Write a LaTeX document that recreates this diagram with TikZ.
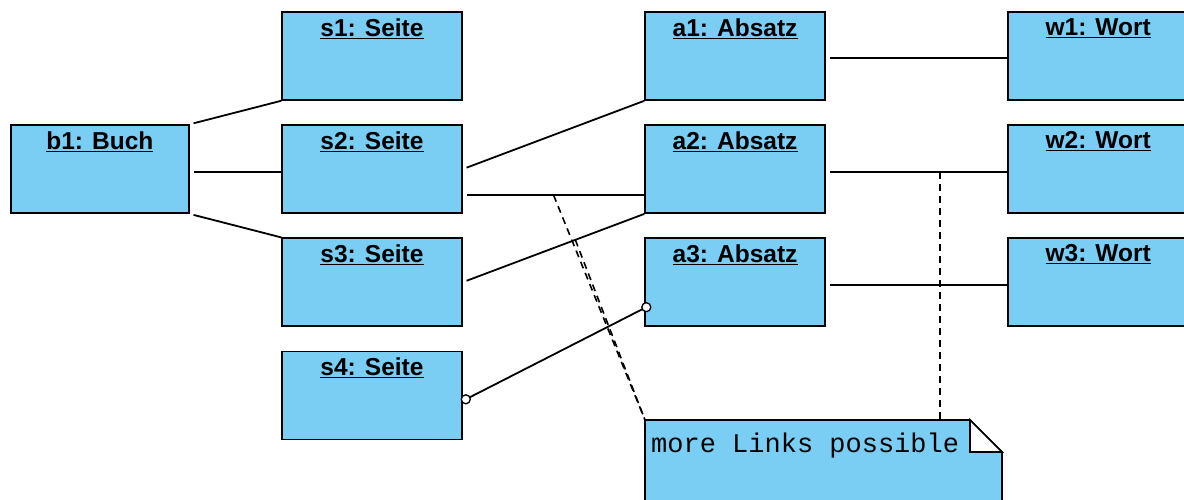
\documentclass[tikz,border=0pt]{standalone}
\usepackage{fontspec}
\setsansfont{Liberation Sans}
\setmonofont{Liberation Mono}
\usetikzlibrary{arrows.meta, positioning, shapes}
\definecolor{umlblue}{RGB}{122, 206, 244}

\begin{document}
\begin{tikzpicture}[x=1pt, y=-1pt, node distance=23.5pt and 181.5pt]
\tikzstyle{object} = [rectangle, minimum width=180pt, minimum height=88pt, draw=black, line width=1.6pt, fill=umlblue]
\tikzstyle{title} = [anchor=north, inner sep=7pt, font=\sffamily\bfseries\fontsize{24.5}{28}\selectfont]
\tikzstyle{link} = [line width=1.8pt, shorten <=4pt]
\tikzstyle{dashlink} = [line width=1.6pt, dash pattern=on 7pt off 5pt]
\tikzstyle{notetext} = [anchor=north west, inner sep=6pt, text height=26pt, font=\ttfamily\fontsize{27}{30}\selectfont]

\useasboundingbox (0,0) rectangle (1184,500);
\clip (0,0) rectangle (1184,500);

\node (s1) [object, label={[title]north:{\underline{s1: Seite}}}] at (372,56) {};
\node (s2) [object, below=of s1, label={[title]north:{\underline{s2: Seite}}}] {};
\node (s3) [object, below=of s2, label={[title]north:{\underline{s3: Seite}}}] {};
\node (s4) [object, below=of s3, label={[title]north:{\underline{s4: Seite}}}] {};
\node (b1) [object, minimum width=178pt, left=91.5pt of s2, label={[title]north:{\underline{b1: Buch}}}] {};

\node (a1) [object, right=of s1, label={[title]north:{\underline{a1: Absatz}}}] {};
\node (a2) [object, right=of s2, label={[title]north:{\underline{a2: Absatz}}}] {};
\node (a3) [object, right=of s3, label={[title]north:{\underline{a3: Absatz}}}] {};

\node (w1) [object, right=of a1, label={[title]north:{\underline{w1: Wort}}}] {};
\node (w2) [object, right=of a2, label={[title]north:{\underline{w2: Wort}}}] {};
\node (w3) [object, right=of a3, label={[title]north:{\underline{w3: Wort}}}] {};

% links
\draw [link] (b1.north east) -- (s1.south west);
\draw [link] ([yshift=-3pt]b1.east) -- ([yshift=-3pt]s2.west);
\draw [link] (b1.south east) -- (s3.north west);
\draw [link] (s2.east) -- (a1.south west);
\draw [link] ([yshift=-26pt]s2.east) -- coordinate[pos=0.5] (n1) ([yshift=-26pt]a2.west);
\draw [link] (s3.east) -- coordinate[pos=0.62] (n2) (a2.south west);
\draw [link] ([yshift=-2pt]a1.east) -- ([yshift=-2pt]w1.west);
\draw [link] ([yshift=-3pt]a2.east) -- coordinate[pos=0.63] (n3) ([yshift=-3pt]w2.west);
\draw [link] ([yshift=-3pt]a3.east) -- ([yshift=-3pt]w3.west);

\coordinate (p1) at ([xshift=3pt,yshift=-4pt]s4.east);
\coordinate (p2) at ([xshift=2pt,yshift=-25pt]a3.west);
\draw [line width=1.8pt] (p1) -- (p2);
\draw [line width=1.3pt, fill=white] (p1) circle (4.5pt) (p2) circle (4.5pt);

% note
\filldraw [fill=umlblue, line width=1.6pt] (645,420) -- (970,420) -- (1002,452) -- (1002,520) -- (645,520) -- cycle;
\filldraw [fill=white, line width=1.6pt] (970,420) -- (970,452) -- (1002,452) -- cycle;
\node (note) [notetext] at (645,420) {more Links possible};

\draw [dashlink] (n1) -- (note.north west);
\draw [dashlink] (n2) -- (note.north west);
\draw [dashlink] (n3) -- (n3 |- note.north);
\end{tikzpicture}
\end{document}
